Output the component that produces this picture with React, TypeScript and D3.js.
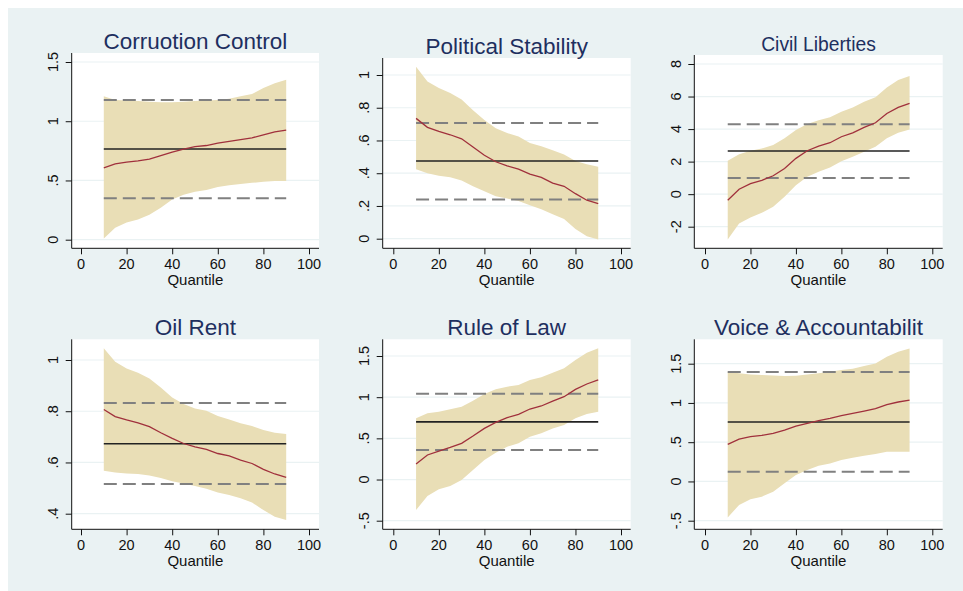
import React, { useEffect, useRef } from "react";
import * as d3 from "d3";

// quantiles used in every panel
const quantiles = [10, 15, 20, 25, 30, 35, 40, 45, 50, 55, 60, 65, 70, 75, 80, 85, 90];
const xTicks = [0, 20, 40, 60, 80, 100];

// Corruption control
const ccEst = [0.607, 0.64, 0.655, 0.665, 0.68, 0.71, 0.74, 0.765, 0.785, 0.795, 0.815, 0.83, 0.845, 0.86, 0.885, 0.91, 0.925];
const ccLo = [0.01, 0.1, 0.145, 0.17, 0.21, 0.27, 0.34, 0.38, 0.405, 0.42, 0.445, 0.46, 0.47, 0.48, 0.49, 0.495, 0.495];
const ccHi = [1.21, 1.18, 1.175, 1.17, 1.165, 1.16, 1.16, 1.165, 1.17, 1.175, 1.18, 1.19, 1.21, 1.23, 1.28, 1.32, 1.35];
const ccRef = [0.765, 0.35, 1.18]; // ols, lower, upper

// Political stability
const psEst = [0.735, 0.68, 0.655, 0.635, 0.61, 0.56, 0.51, 0.47, 0.445, 0.425, 0.395, 0.375, 0.34, 0.32, 0.275, 0.235, 0.215];
const psLo = [0.425, 0.4, 0.385, 0.375, 0.355, 0.32, 0.29, 0.26, 0.245, 0.23, 0.205, 0.18, 0.15, 0.12, 0.06, 0.015, -0.005];
const psHi = [1.05, 0.96, 0.92, 0.89, 0.85, 0.785, 0.725, 0.675, 0.645, 0.625, 0.585, 0.565, 0.54, 0.515, 0.475, 0.455, 0.44];
const psRef = [0.475, 0.24, 0.707];

// Civil liberties
const clEst = [-0.37, 0.3, 0.65, 0.85, 1.13, 1.58, 2.2, 2.67, 2.95, 3.16, 3.53, 3.77, 4.1, 4.39, 4.96, 5.33, 5.58];
const clLo = [-2.79, -1.8, -1.44, -1.15, -0.78, -0.16, 0.55, 1.07, 1.37, 1.64, 2.03, 2.3, 2.6, 2.91, 3.43, 3.77, 3.98];
const clHi = [2.05, 2.46, 2.67, 2.81, 3.02, 3.43, 3.94, 4.31, 4.55, 4.72, 5.07, 5.33, 5.68, 5.95, 6.56, 7.02, 7.26];
const clRef = [2.65, 1.0, 4.29];

// Oil rent
const orEst = [0.807, 0.779, 0.766, 0.755, 0.74, 0.716, 0.694, 0.674, 0.661, 0.651, 0.635, 0.626, 0.609, 0.596, 0.573, 0.555, 0.542];
const orLo = [0.568, 0.561, 0.557, 0.555, 0.549, 0.539, 0.527, 0.518, 0.508, 0.497, 0.483, 0.473, 0.46, 0.444, 0.414, 0.388, 0.375];
const orHi = [1.046, 0.993, 0.967, 0.95, 0.928, 0.893, 0.854, 0.828, 0.811, 0.802, 0.781, 0.768, 0.753, 0.742, 0.727, 0.716, 0.711];
const orRef = [0.673, 0.516, 0.832];

// Rule of law
const rlEst = [0.188, 0.298, 0.346, 0.391, 0.44, 0.528, 0.621, 0.694, 0.751, 0.792, 0.856, 0.893, 0.953, 1.006, 1.095, 1.16, 1.209];
const rlLo = [-0.37, -0.2, -0.119, -0.079, -0.006, 0.115, 0.237, 0.326, 0.399, 0.439, 0.52, 0.561, 0.621, 0.662, 0.743, 0.796, 0.824];
const rlHi = [0.743, 0.804, 0.824, 0.852, 0.885, 0.957, 1.038, 1.095, 1.128, 1.148, 1.209, 1.241, 1.298, 1.35, 1.451, 1.54, 1.593];
const rlRef = [0.7, 0.358, 1.043];

// Voice & accountability
const vaEst = [0.472, 0.54, 0.57, 0.587, 0.613, 0.655, 0.706, 0.74, 0.774, 0.804, 0.838, 0.867, 0.897, 0.927, 0.978, 1.012, 1.037];
const vaLo = [-0.458, -0.3, -0.228, -0.194, -0.131, -0.024, 0.082, 0.145, 0.2, 0.23, 0.273, 0.302, 0.328, 0.349, 0.379, 0.379, 0.379];
const vaHi = [1.398, 1.377, 1.364, 1.356, 1.351, 1.343, 1.347, 1.364, 1.377, 1.398, 1.419, 1.436, 1.47, 1.504, 1.589, 1.653, 1.695];
const vaRef = [0.757, 0.124, 1.394];

const titles = ["Corruotion Control", "Political Stability", "Civil Liberties", "Oil Rent", "Rule of Law", "Voice & Accountabilit"];

const yTicks1 = [0, 0.5, 1, 1.5];
const yTicks2 = [0, 0.2, 0.4, 0.6, 0.8, 1];
const yTicks3 = [-2, 0, 2, 4, 6, 8];
const yTicks4 = [0.4, 0.6, 0.8, 1];
const yTicks5 = [-0.5, 0, 0.5, 1, 1.5];

const fmt = (v) => {
  let s = String(v);
  return s.replace(/^0\./, ".").replace(/^-0\./, "-.");
};

const W = 963;
const H = 591;
const font = "'Liberation Sans', Arial, sans-serif";

const App = () => {
  const svgRef = useRef(null);

  useEffect(() => {
    const svg = d3.select(svgRef.current);
    svg.selectAll("*").remove();

    svg.append("rect").attr("x", 0).attr("y", 0).attr("width", W).attr("height", H).attr("fill", "#ffffff");
    svg.append("rect").attr("x", 8).attr("y", 8).attr("width", W - 8).attr("height", H - 8).attr("fill", "#eaf2f3");

    // plot region per column / row
    const cols = [
      { left: 71.7, right: 319, x0: 81, x100: 309 },
      { left: 382.7, right: 630.7, x0: 393.3, x100: 621 },
      { left: 694.3, right: 942.7, x0: 705, x100: 932.3 },
    ];
    const panels = [
      { est: ccEst, lo: ccLo, hi: ccHi, ref: ccRef, ticks: yTicks1, col: 0, top: 53, bottom: 248.3, yd: [0, 1.5], yr: [239.7, 62], tsize: 22.5 },
      { est: psEst, lo: psLo, hi: psHi, ref: psRef, ticks: yTicks2, col: 1, top: 58, bottom: 248.3, yd: [0, 1], yr: [238.7, 75], tsize: 22.5 },
      { est: clEst, lo: clLo, hi: clHi, ref: clRef, ticks: yTicks3, col: 2, top: 55, bottom: 248.3, yd: [-2, 8], yr: [226.7, 64], tsize: 19.3 },
      { est: orEst, lo: orLo, hi: orHi, ref: orRef, ticks: yTicks4, col: 0, top: 339.3, bottom: 529.3, yd: [0.4, 1], yr: [513.7, 360], tsize: 22.5 },
      { est: rlEst, lo: rlLo, hi: rlHi, ref: rlRef, ticks: yTicks5, col: 1, top: 339.3, bottom: 529.3, yd: [-0.5, 1.5], yr: [520.7, 356], tsize: 22.5 },
      { est: vaEst, lo: vaLo, hi: vaHi, ref: vaRef, ticks: yTicks5, col: 2, top: 339.3, bottom: 529.3, yd: [-0.5, 1.5], yr: [520.7, 363.7], tsize: 22.5 },
    ];

    panels.forEach((p, i) => {
      const c = cols[p.col];
      const x = d3.scaleLinear().domain([0, 100]).range([c.x0, c.x100]);
      const y = d3.scaleLinear().domain(p.yd).range(p.yr);
      const g = svg.append("g");

      g.append("rect")
        .attr("x", c.left)
        .attr("y", p.top)
        .attr("width", c.right - c.left)
        .attr("height", p.bottom - p.top)
        .attr("fill", "#ffffff");

      // grid
      g.selectAll(".grid")
        .data(p.ticks)
        .join("line")
        .attr("x1", c.left)
        .attr("x2", c.right)
        .attr("y1", (d) => y(d))
        .attr("y2", (d) => y(d))
        .attr("stroke", "#eaf2f3")
        .attr("stroke-width", 1.2);

      const band = d3
        .area()
        .x((d, k) => x(quantiles[k]))
        .y0((d, k) => y(p.lo[k]))
        .y1((d, k) => y(p.hi[k]));
      g.append("path").attr("d", band(quantiles)).attr("fill", "#e9deb6");

      const hline = (v, color, w, dash) =>
        g.append("line")
          .attr("x1", x(10))
          .attr("x2", x(90))
          .attr("y1", y(v))
          .attr("y2", y(v))
          .attr("stroke", color)
          .attr("stroke-width", w)
          .attr("stroke-dasharray", dash);

      hline(p.ref[1], "#808080", 2, "13,6");
      hline(p.ref[2], "#808080", 2, "13,6");
      hline(p.ref[0], "#222222", 1.6, null);

      const line = d3
        .line()
        .x((d, k) => x(quantiles[k]))
        .y((d) => y(d));
      g.append("path")
        .attr("d", line(p.est))
        .attr("fill", "none")
        .attr("stroke", "#a0303c")
        .attr("stroke-width", 1.3);

      // axes
      const yAxis = d3.axisLeft(y).tickValues(p.ticks).tickSize(6).tickFormat("");
      const ya = g.append("g").attr("transform", `translate(${c.left},0)`).call(yAxis);
      ya.select(".domain").attr("d", `M0,${p.top}V${p.bottom}`).attr("stroke", "#111");
      ya.selectAll(".tick line").attr("stroke", "#111");

      const xAxis = d3.axisBottom(x).tickValues(xTicks).tickSize(6).tickFormat("");
      const xa = g.append("g").attr("transform", `translate(0,${p.bottom})`).call(xAxis);
      xa.select(".domain").attr("d", `M${c.left},0H${c.right}`).attr("stroke", "#111");
      xa.selectAll(".tick line").attr("stroke", "#111");

      g.selectAll(".ylab")
        .data(p.ticks)
        .join("text")
        .attr("transform", (d) => `translate(${c.left - 13.5},${y(d)}) rotate(-90)`)
        .attr("text-anchor", "middle")
        .attr("font-family", font)
        .attr("font-size", 14.5)
        .attr("fill", "#111")
        .text((d) => fmt(d));

      g.selectAll(".xlab")
        .data(xTicks)
        .join("text")
        .attr("x", (d) => x(d))
        .attr("y", p.bottom + 20.5)
        .attr("text-anchor", "middle")
        .attr("font-family", font)
        .attr("font-size", 14.5)
        .attr("fill", "#111")
        .text((d) => d);

      g.append("text")
        .attr("x", (c.left + c.right) / 2)
        .attr("y", p.bottom + 37)
        .attr("text-anchor", "middle")
        .attr("font-family", font)
        .attr("font-size", 15)
        .attr("fill", "#111")
        .text("Quantile");

      g.append("text")
        .attr("x", (c.left + c.right) / 2)
        .attr("y", p.top - 4.5)
        .attr("text-anchor", "middle")
        .attr("font-family", font)
        .attr("font-size", p.tsize)
        .attr("fill", "#1e2f5f")
        .text(titles[i]);
    });
  }, []);

  return (
    <svg
      ref={svgRef}
      width={W}
      height={H}
      style={{ position: "absolute", left: 0, top: 0, display: "block" }}
    ></svg>
  );
};

export default App;
